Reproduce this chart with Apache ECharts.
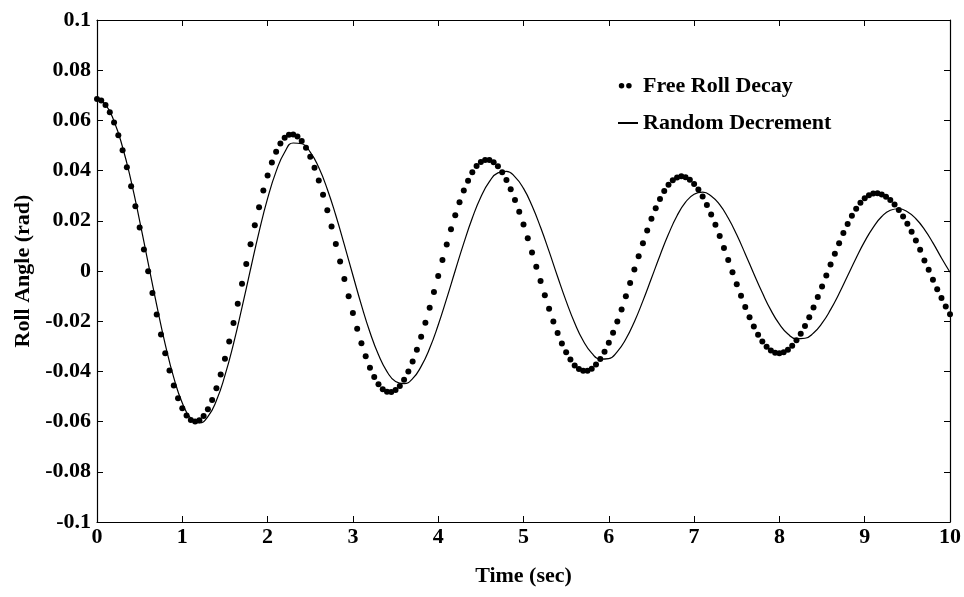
<!DOCTYPE html>
<html>
  <head>
    <meta charset="UTF-8">
    <title>Roll Angle</title>
    <script src="https://cdn.jsdelivr.net/npm/echarts/dist/echarts.min.js"></script>
    <style>
      html, body { margin: 0; padding: 0; background: #fff; }
    </style>
  </head>
  <body>
    <div id="myChart" style="width: 964px;height:597px;"></div>
    <script type="text/javascript">
    // sample steps (sec) of the two records
    var dotStep = 0.05;
    var lineStep = 0.1;

    // Free Roll Decay, one dot every 0.05 s (one row = 1 s)
    var freeRollDecay = [
      0.0685, 0.0679, 0.0661, 0.0632, 0.0592, 0.0541, 0.0481, 0.0413, 0.0338, 0.0258, 0.0173, 0.0086, -0.0001, -0.0088, -0.0173, -0.0253, -0.0328, -0.0396, -0.0456, -0.0507,
      -0.0547, -0.0576, -0.0594, -0.0600, -0.0595, -0.0578, -0.0551, -0.0514, -0.0467, -0.0412, -0.0350, -0.0281, -0.0207, -0.0130, -0.0051, 0.0028, 0.0107, 0.0182, 0.0254, 0.0321,
      0.0380, 0.0432, 0.0475, 0.0508, 0.0531, 0.0543, 0.0544, 0.0536, 0.0518, 0.0491, 0.0455, 0.0411, 0.0361, 0.0304, 0.0242, 0.0177, 0.0108, 0.0038, -0.0032, -0.0101,
      -0.0167, -0.0230, -0.0288, -0.0340, -0.0385, -0.0422, -0.0451, -0.0471, -0.0481, -0.0482, -0.0474, -0.0458, -0.0433, -0.0400, -0.0361, -0.0314, -0.0262, -0.0206, -0.0146, -0.0084,
      -0.0020, 0.0044, 0.0106, 0.0166, 0.0222, 0.0274, 0.0321, 0.0360, 0.0393, 0.0418, 0.0434, 0.0442, 0.0442, 0.0433, 0.0417, 0.0393, 0.0363, 0.0326, 0.0283, 0.0236,
      0.0185, 0.0130, 0.0074, 0.0017, -0.0040, -0.0097, -0.0150, -0.0201, -0.0247, -0.0289, -0.0324, -0.0353, -0.0376, -0.0390, -0.0397, -0.0397, -0.0389, -0.0373, -0.0351, -0.0322,
      -0.0286, -0.0246, -0.0201, -0.0153, -0.0101, -0.0048, 0.0006, 0.0059, 0.0111, 0.0161, 0.0208, 0.0250, 0.0287, 0.0319, 0.0344, 0.0362, 0.0373, 0.0377, 0.0374, 0.0364,
      0.0347, 0.0325, 0.0297, 0.0263, 0.0225, 0.0184, 0.0139, 0.0092, 0.0044, -0.0005, -0.0053, -0.0099, -0.0143, -0.0184, -0.0221, -0.0254, -0.0281, -0.0302, -0.0317, -0.0326,
      -0.0328, -0.0324, -0.0314, -0.0298, -0.0276, -0.0250, -0.0219, -0.0184, -0.0145, -0.0104, -0.0062, -0.0018, 0.0026, 0.0069, 0.0111, 0.0151, 0.0187, 0.0220, 0.0248, 0.0272,
      0.0290, 0.0302, 0.0309, 0.0310, 0.0305, 0.0296, 0.0283, 0.0265, 0.0243, 0.0217, 0.0188, 0.0156, 0.0122, 0.0085, 0.0042, 0.0005, -0.0035, -0.0073, -0.0108, -0.0141,
      -0.0172
    ];

    // Random Decrement, every 0.1 s
    var randomDecrement = [
      0.0685, 0.0663, 0.0597, 0.0493, 0.0358, 0.0200, 0.0031, -0.0136, -0.0292, -0.0425,
      -0.0526, -0.0587, -0.0605, -0.0580, -0.0516, -0.0416, -0.0290, -0.0145, 0.0007, 0.0156,
      0.0289, 0.0397, 0.0473, 0.0510, 0.0507, 0.0474, 0.0412, 0.0326, 0.0221, 0.0104,
      -0.0017, -0.0136, -0.0244, -0.0334, -0.0401, -0.0440, -0.0449, -0.0429, -0.0380, -0.0308,
      -0.0215, -0.0109, 0.0002, 0.0111, 0.0211, 0.0295, 0.0356, 0.0391, 0.0397, 0.0375,
      0.0329, 0.0260, 0.0174, 0.0078, -0.0023, -0.0120, -0.0207, -0.0278, -0.0327, -0.0351,
      -0.0349, -0.0321, -0.0271, -0.0202, -0.0119, -0.0029, 0.0062, 0.0147, 0.0220, 0.0274,
      0.0306, 0.0314, 0.0299, 0.0264, 0.0211, 0.0144, 0.0068, -0.0011, -0.0087, -0.0156,
      -0.0212, -0.0251, -0.0270, -0.0268, -0.0247, -0.0208, -0.0154, -0.0090, -0.0019, 0.0052,
      0.0118, 0.0174, 0.0217, 0.0242, 0.0248, 0.0236, 0.0208, 0.0166, 0.0112, 0.0052,
      -0.0005
    ];

    var seriesNames = ['Free Roll Decay', 'Random Decrement'];
    var xTicks = [0, 10, 1];        // min, max, step
    var yTicks = [-0.1, 0.1, 0.02];

    var font = 'Liberation Serif, Times New Roman, serif';
    var txt = { color: '#000', fontFamily: font, fontWeight: 'bold', fontSize: 22 };
    var axLine = { show: true, onZero: false, lineStyle: { color: '#000', width: 1.2 } };
    var axTick = { show: true, inside: true, length: 6, lineStyle: { color: '#000', width: 1 } };

    function xAxisOf(pos, labels) {
      return {
        type: 'value', position: pos, min: xTicks[0], max: xTicks[1], interval: xTicks[2],
        axisLine: axLine, axisTick: axTick, splitLine: { show: false },
        axisLabel: Object.assign({ show: labels, margin: 4 }, txt)
      };
    }
    function yAxisOf(pos, labels) {
      return {
        type: 'value', position: pos, min: yTicks[0], max: yTicks[1], interval: yTicks[2],
        axisLine: axLine, axisTick: axTick, splitLine: { show: false },
        axisLabel: Object.assign({ show: labels, margin: 6, formatter: function (v) { return String(+v.toFixed(2)); } }, txt)
      };
    }

    var myChart = echarts.init(document.getElementById('myChart'));
    var xBottom = xAxisOf('bottom', true);
    xBottom.name = 'Time (sec)';
    xBottom.nameLocation = 'middle';
    xBottom.nameGap = 43;
    xBottom.nameTextStyle = txt;
    var yLeft = yAxisOf('left', true);
    yLeft.name = 'Roll Angle (rad)';
    yLeft.nameLocation = 'middle';
    yLeft.nameGap = 62;
    yLeft.nameTextStyle = txt;

    var option = {
      animation: false,
      backgroundColor: '#fff',
      grid: { left: 97, right: 14, top: 20, bottom: 75 },
      legend: {
        orient: 'vertical', left: 613, top: 70,
        itemWidth: 20, itemHeight: 6, itemGap: 15,
        textStyle: txt,
        data: [
          { name: seriesNames[0], icon: 'path://M0,2.5a3,3 0 1,1 6,0a3,3 0 1,1 -6,0z M8,2.5a3,3 0 1,1 6,0a3,3 0 1,1 -6,0z M20,0h0.01v0.01h-0.01z M20,6h0.01v0.01h-0.01z' },
          { name: seriesNames[1], icon: 'path://M0,0h0.01v6h-0.01z M0,2h20v2h-20z' }
        ]
      },
      xAxis: [xBottom, xAxisOf('top', false)],
      yAxis: [yLeft, yAxisOf('right', false)],
      series: [{
        name: seriesNames[0],
        type: 'scatter',
        symbol: 'circle',
        symbolSize: 6,
        itemStyle: { color: '#000', opacity: 1 },
        data: freeRollDecay.map(function (v, i) { return [i * dotStep, v]; }),
        z: 3
      }, {
        name: seriesNames[1],
        type: 'line',
        smooth: true,
        symbol: 'none',
        showSymbol: false,
        lineStyle: { color: '#000', width: 1.2 },
        itemStyle: { color: '#000' },
        data: randomDecrement.map(function (v, i) { return [i * lineStep, v]; }),
        z: 2
      }]
    };
    myChart.setOption(option);
    </script>
  </body>
</html>
